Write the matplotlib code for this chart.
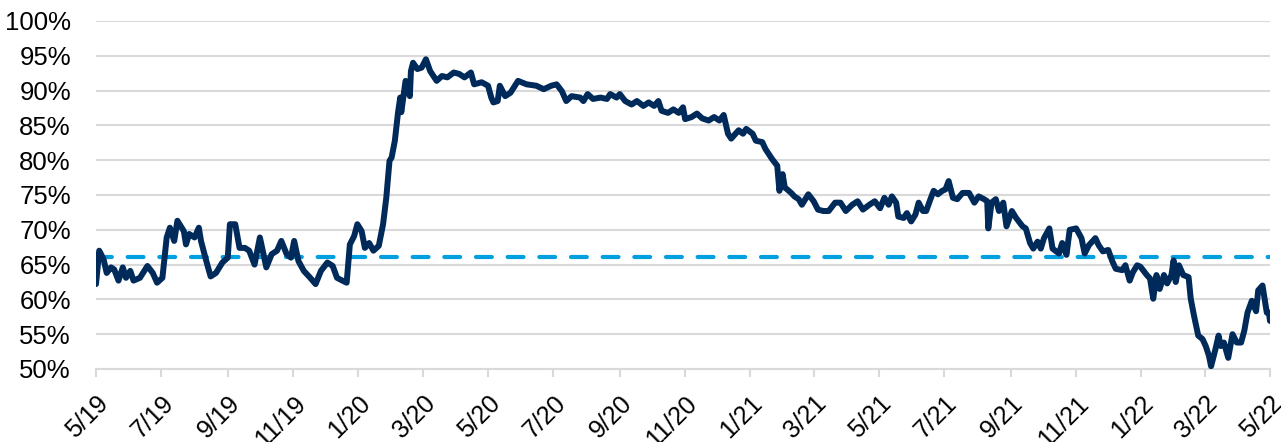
import matplotlib
matplotlib.use("Agg")
import matplotlib.pyplot as plt
import numpy as np
import pandas as pd

# ---- data ----
start_date = "2019-05-01"
day_offset = [
    0, 3, 7, 10, 14, 17, 21, 25, 28, 32, 35, 41, 48, 53, 57, 62, 66, 69, 73, 76,
    82, 84, 87, 92, 96, 98, 103, 107, 112, 118, 123, 125, 130, 134, 139, 143, 148,
    153, 159, 164, 169, 173, 178, 182, 185, 189, 194, 200, 205, 210, 216, 221, 225,
    230, 234, 237, 241, 244, 248, 251, 255, 259, 264, 268, 271, 274, 276, 279, 282,
    284, 285, 289, 293, 294, 296, 300, 304, 308, 312, 318, 323, 328, 334, 339, 344,
    350, 353, 360, 366, 369, 371, 375, 377, 382, 387, 394, 402, 411, 418, 425, 430,
    435, 439, 444, 452, 455, 459, 464, 471, 477, 480, 486, 489, 494, 500, 505, 511,
    516, 521, 525, 528, 534, 539, 544, 548, 550,
    556, 561, 566, 572, 577, 582, 586, 590, 593, 597, 600, 604, 607, 613, 616, 622,
    625, 631, 636, 638, 641, 643, 649, 652, 656, 659, 665, 670, 674, 679, 684, 690,
    695, 700, 706, 711, 716, 722, 727, 732, 736, 740, 743, 747, 749, 754, 757, 761,
    765, 768, 772, 775, 779, 782, 786, 790, 793, 796, 800, 804, 809, 815, 820, 824,
    829, 832, 833, 836, 840, 843, 847, 850, 855, 859, 865, 868, 872, 875, 879, 882,
    885, 890, 893, 899, 902, 906, 909, 915, 920, 923, 927, 933, 936, 940, 945, 949,
    952, 958, 961, 965, 968, 972, 975, 981, 984, 987, 990, 993, 997, 1000, 1004,
    1006, 1008, 1011, 1015, 1020, 1022, 1025, 1029, 1033, 1036, 1039, 1041, 1045,
    1048, 1050, 1053, 1057, 1061, 1065, 1069, 1072, 1075, 1079, 1083, 1085, 1089,
    1093, 1095, 1096,
]
pct = [
    62.2, 67.0, 65.8, 63.8, 64.6, 64.3, 62.7, 64.6, 63.1, 64.1, 62.7, 63.1, 64.8,
    63.8, 62.4, 63.1, 68.9, 70.3, 68.4, 71.3, 69.8, 67.9, 69.4, 68.9, 70.3, 68.4,
    65.5, 63.3, 63.8, 65.3, 66.0, 70.8, 70.8, 67.4, 67.4, 67.0, 65.0, 68.9, 64.6,
    66.5, 67.0, 68.4, 66.5, 66.0, 68.4, 65.5, 64.1, 63.1, 62.2, 64.1, 65.3, 64.8,
    63.1, 62.7, 62.4, 67.9, 69.1, 70.8, 69.8, 67.4, 68.1, 67.0, 67.7, 70.8, 74.6,
    79.9, 80.4, 82.8, 86.9, 89.0, 86.9, 91.4, 89.2, 92.8, 94.0, 93.1, 93.3, 94.5,
    92.8, 91.4, 92.1, 91.9, 92.6, 92.4, 91.9, 92.6, 90.9, 91.2, 90.7, 89.0, 88.3,
    88.5, 90.7, 89.2, 89.7, 91.4, 90.9, 90.7, 90.2, 90.7, 90.9, 89.9, 88.5, 89.2,
    89.0, 88.5, 89.5, 88.8, 89.0, 88.8, 89.5, 89.0, 89.5, 88.5, 88.0, 88.5, 87.8,
    88.3, 87.8, 88.5, 87.1, 86.8, 87.3, 86.8, 87.6, 85.9,
    86.2, 86.7, 86.0, 85.7, 86.2, 85.7, 86.5, 83.8, 83.1, 83.8, 84.3, 83.8, 84.5,
    83.8, 82.8, 82.6, 81.6, 80.2, 79.2, 75.6, 78.0, 76.1, 75.3, 74.8, 74.4, 73.6,
    75.1, 74.1, 72.9, 72.7, 72.7, 73.9, 73.9, 72.7, 73.6, 74.1, 72.9, 73.6, 74.1,
    73.1, 74.6, 73.6, 74.8, 73.9, 71.9, 71.7, 72.4, 71.2, 72.2, 73.9, 72.7, 72.7,
    74.4, 75.6, 75.1, 75.6, 75.8, 77.0, 74.6, 74.4, 75.3, 75.3, 73.9, 74.8, 74.4,
    74.1, 70.2, 73.9, 74.4, 72.7, 73.9, 70.5, 72.7, 71.7, 70.5, 70.2, 68.1, 67.3,
    68.3, 67.3, 68.8, 70.2, 67.3, 66.6, 68.1, 66.4, 70.0, 70.2, 68.8, 66.6, 67.8,
    68.8, 67.8, 66.9, 67.1, 65.4, 64.4, 64.2, 64.9, 62.7, 63.9, 64.9, 64.7, 63.5,
    63.0, 60.1, 63.5, 61.5, 63.5, 62.3, 63.5, 65.6, 62.5, 64.9, 63.5, 63.2, 60.1,
    57.7, 54.8, 54.3, 53.3, 51.9, 50.4, 52.8, 54.8, 53.3, 53.8, 51.6, 55.0, 53.8,
    53.8, 55.5, 58.1, 59.8, 58.3, 61.3, 62.0, 58.1, 58.1, 56.9,
]
average_level = 66.1
y_ticks = [50, 55, 60, 65, 70, 75, 80, 85, 90, 95, 100]
x_tick_labels = ["5/19", "7/19", "9/19", "11/19", "1/20", "3/20", "5/20", "7/20",
                 "9/20", "11/20", "1/21", "3/21", "5/21", "7/21", "9/21", "11/21",
                 "1/22", "3/22", "5/22"]

# ---- derived ----
dates = pd.Timestamp(start_date) + pd.to_timedelta(day_offset, unit="D")
tick_dates = pd.date_range(start_date, periods=len(x_tick_labels), freq="2MS")

NAVY = "#002a5a"
LIGHT_BLUE = "#00a0e0"
GRID = "#d9d9d9"

plt.rcParams["font.family"] = ["Liberation Sans", "DejaVu Sans"]

fig = plt.figure(figsize=(12.81, 4.42), dpi=100)
ax = fig.add_axes([96 / 1281, 1 - 369 / 442, (1270 - 96) / 1281, (369 - 21) / 442])

ax.plot([dates[0], dates[-1]], [average_level, average_level], color=LIGHT_BLUE,
        lw=3.0, dashes=(3.8, 3.8), dash_capstyle="round", zorder=3)
ax.plot(dates, pct, color=NAVY, lw=4.3, solid_joinstyle="round",
        solid_capstyle="round", zorder=4)

ax.set_xlim(tick_dates[0], tick_dates[-1])
ax.set_ylim(50, 100)
ax.set_yticks(y_ticks)
ax.set_yticklabels([f"{v}%" for v in y_ticks])
ax.set_xticks(tick_dates)
ax.set_xticklabels(x_tick_labels, rotation=45, ha="right", va="top",
                   rotation_mode="anchor")

ax.grid(axis="y", color=GRID, lw=1.5)
ax.set_axisbelow(True)
for side in ["left", "right", "top"]:
    ax.spines[side].set_visible(False)
ax.spines["bottom"].set_color(GRID)
ax.spines["bottom"].set_linewidth(1.5)
ax.tick_params(axis="y", length=0, pad=18, labelsize=18.5, colors="black")
ax.tick_params(axis="x", length=6, width=1.5, color=GRID, pad=10,
               labelsize=18, labelcolor="black")

fig.savefig("out.png", dpi=100)
